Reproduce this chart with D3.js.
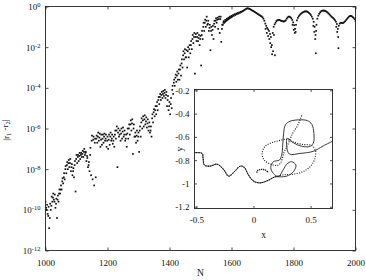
<!DOCTYPE html>
<html><head><meta charset="utf-8">
<script src="https://cdn.jsdelivr.net/npm/d3@7"></script>
<style>
body{margin:0;background:#fff}
svg{display:block}
text{font-family:"Liberation Serif","Times New Roman",serif;fill:#111}
</style>
</head><body>
<svg id="c" width="366" height="280"></svg>
<script>
// ---------- main plot data: log10 |r1 - r2| versus N ----------
const bandN = [1000,1005,1010,1015,1020,1025,1030,1035,1040,1045,1050,1055,1060,1065,1070,1075,1080,1085,1090,1095,1100,1105,1110,1115,1120,1125,1130,1135,1140,1145,1150,1155,1160,1165,1170,1175,1180,1185,1190,1195,1200,1205,1210,1215,1220,1225,1230,1235,1240,1245,1250,1255,1260,1265,1270,1275,1280,1285,1290,1295,1300,1305,1310,1315,1320,1325,1330,1335,1340,1345,1350,1355,1360,1365,1370,1375,1380,1385,1390,1395,1400,1405,1410,1415,1420,1425,1430,1435,1440,1445,1450,1455,1460,1465,1470,1475,1480,1485,1490,1495,1500,1505,1510,1515,1520,1525,1530,1535,1540,1545,1550,1555,1560,1565,1570,1575,1580,1585,1590,1595,1600,1605,1610,1615,1620,1625,1630,1635,1640];
const bandUpper = [-9.6,-9.75,-9.85,-9.7,-9.35,-9.2,-9.25,-9.45,-9.3,-9.0,-8.8,-8.45,-8.2,-7.85,-7.65,-7.55,-7.5,-7.75,-7.95,-7.6,-7.3,-7.3,-7.2,-7.2,-7.1,-7.0,-7.15,-7.45,-7.65,-6.95,-6.35,-6.4,-6.5,-6.35,-6.2,-6.25,-6.3,-6.3,-6.25,-6.3,-6.4,-6.3,-6.2,-6.3,-6.4,-6.1,-5.9,-6.0,-6.1,-6.0,-5.95,-6.1,-6.3,-6.0,-5.8,-5.6,-5.55,-5.8,-6.2,-6.1,-6.2,-5.9,-5.5,-5.4,-5.35,-5.45,-5.55,-5.7,-5.9,-5.3,-5.05,-4.9,-4.7,-4.45,-4.3,-4.2,-4.15,-4.1,-4.2,-4.4,-4.7,-4.5,-3.9,-3.6,-3.35,-3.2,-3.1,-2.9,-2.6,-2.2,-2.1,-2.15,-2.0,-1.9,-1.7,-1.4,-1.3,-1.35,-1.3,-1.4,-1.45,-1.2,-0.8,-0.65,-0.5,-0.7,-0.9,-1.0,-0.95,-0.7,-0.58,-0.55,-0.5,-0.5,-0.9,-0.72,-0.66,-0.6,-0.55,-0.5,-0.46,-0.42,-0.38,-0.35,-0.32,-0.29,-0.26,-0.23,-0.19];
const midN = [1004,1009,1014,1019,1024,1029,1034,1039,1044,1049,1054,1059,1064,1069,1074,1079,1084,1089,1094,1099,1104,1109,1114,1119,1124,1129,1134,1139,1144,1149,1154,1159,1164,1169,1174,1179,1184,1189,1194,1199,1204,1209,1214,1219,1224,1229,1234,1239,1244,1249,1254,1259,1264,1269,1274,1279,1284,1289,1294,1299,1304,1309,1314,1319,1324,1329,1334,1339,1344,1349,1354,1359,1364,1369,1374,1379,1384,1389,1394,1399,1404,1409,1414,1419,1424,1429,1434,1439,1444,1449,1454,1459,1464,1469,1474,1479,1484,1489,1494,1499,1504,1509,1514,1519,1524,1529,1534,1539,1544,1549,1554,1559,1564,1569,1574,1579,1584,1589,1594,1599];
const midVal = [-10.0,-10.3,-10.4,-9.8,-9.4,-9.6,-9.7,-9.5,-9.2,-9.0,-8.6,-8.4,-8.0,-7.8,-7.7,-7.7,-7.9,-8.1,-7.8,-7.5,-7.4,-7.35,-7.3,-7.25,-7.15,-7.2,-7.35,-7.8,-7.3,-6.6,-6.55,-6.7,-6.5,-6.4,-6.45,-6.55,-6.5,-6.4,-6.5,-6.6,-6.55,-6.4,-6.5,-6.6,-6.3,-6.1,-6.2,-6.3,-6.25,-6.15,-6.3,-6.5,-6.25,-6.0,-5.8,-5.75,-6.0,-6.4,-6.35,-6.4,-6.1,-5.7,-5.6,-5.55,-5.65,-5.75,-5.9,-6.1,-5.5,-5.2,-5.1,-4.9,-4.6,-4.45,-4.35,-4.3,-4.25,-4.35,-4.6,-4.9,-4.8,-4.1,-3.75,-3.5,-3.4,-3.3,-3.1,-2.8,-2.4,-2.3,-2.5,-2.2,-2.1,-1.9,-1.6,-1.5,-1.5,-1.5,-1.55,-1.6,-1.4,-1.0,-0.8,-0.7,-0.85,-1.05,-1.2,-1.15,-0.85,-0.7,-0.65,-0.62,-0.62,-1.1,-0.8,-0.75,-0.68,-0.62,-0.57,-0.52];
const lowerN = [1002,1007,1012,1017,1022,1027,1032,1037,1042,1047,1052,1057,1062,1067,1072,1077,1082,1087,1092,1097,1102,1107,1112,1117,1122,1127,1132,1137,1142,1147,1152,1157,1162,1167,1172,1177,1182,1187,1192,1197,1202,1207,1212,1217,1222,1227,1232,1237,1242,1247,1252,1257,1262,1267,1272,1277,1282,1287,1292,1297,1302,1307,1312,1317,1322,1327,1332,1337,1342,1347,1352,1357,1362,1367,1372,1377,1382,1387,1392,1397,1402,1407,1412,1417,1422,1427,1432,1437,1442,1447,1452,1457,1462,1467,1472,1477,1482,1487,1492,1497,1502,1507,1512,1517,1522,1527,1532,1537,1542,1547,1552,1557,1562,1567,1572,1577,1582,1587,1592,1597,1602,1607,1612,1617,1622,1627,1632,1637];
const lowerVal = [-9.9,-10.2,-10.9,-10.0,-9.6,-9.5,-9.9,-10.4,-9.6,-9.2,-9.0,-8.7,-8.5,-8.2,-8.0,-7.9,-8.1,-8.3,-8.4,-9.1,-7.7,-7.6,-7.5,-7.4,-7.4,-7.3,-7.6,-7.9,-8.1,-8.3,-8.5,-8.8,-8.4,-6.7,-6.6,-6.9,-6.8,-6.7,-6.6,-6.9,-7.0,-6.8,-6.6,-6.75,-6.9,-6.5,-7.9,-6.4,-6.6,-6.5,-6.4,-6.6,-6.9,-6.5,-6.3,-6.1,-7.25,-6.4,-6.7,-6.6,-7.15,-6.4,-6.0,-5.9,-5.8,-5.95,-6.1,-6.2,-6.4,-5.7,-5.4,-5.3,-5.1,-4.8,-4.6,-4.5,-4.4,-4.5,-4.9,-5.1,-5.3,-5.0,-4.3,-3.9,-3.7,-3.6,-3.6,-3.4,-3.0,-2.6,-2.5,-3.0,-2.5,-2.3,-2.1,-1.8,-3.3,-1.7,-1.7,-1.9,-2.9,-1.6,-1.2,-1.0,-0.9,-1.2,-2.15,-1.4,-1.6,-1.0,-0.8,-1.1,-1.3,-1.74,-0.9,-0.8,-0.72,-0.66,-0.6,-0.55,-0.5,-0.46,-0.42,-0.38,-0.35,-0.31,-0.27,-0.22];
const satN = [1643,1646,1649,1652,1655,1658,1661,1664,1667,1670,1673,1676,1679,1682,1685,1688,1691,1694,1697,1700,1703,1706,1709,1712,1715,1718,1721,1724,1727,1730,1733,1736,1739,1742,1745,1748,1751,1754,1757,1760,1763,1766,1769,1772,1775,1778,1781,1784,1787,1790,1793,1796,1799,1802,1805,1808,1811,1814,1817,1820,1823,1826,1829,1832,1835,1838,1841,1844,1847,1850,1853,1856,1859,1862,1865,1868,1871,1874,1877,1880,1883,1886,1889,1892,1895,1898,1901,1904,1907,1910,1913,1916,1919,1922,1925,1928,1931,1934,1937,1940,1943,1946,1949,1952,1955,1958,1961,1964,1967,1970,1973,1976,1979,1982,1985,1988,1991,1994,1997,2000];
const satVal = [-0.16,-0.13,-0.1,-0.09,-0.1,-0.12,-0.14,-0.17,-0.2,-0.22,-0.25,-0.28,-0.31,-0.34,-0.37,-0.4,-0.43,-0.46,-0.49,-0.53,-0.6,-0.7,-0.84,-0.95,-1.05,-1.12,-1.2,-1.35,-1.5,-1.9,-1.3,-1.0,-0.88,-0.8,-0.72,-0.68,-0.66,-0.66,-0.68,-0.7,-0.72,-0.73,-0.74,-0.72,-0.68,-0.6,-0.54,-0.5,-0.5,-0.53,-0.58,-0.66,-0.78,-0.92,-1.1,-0.9,-0.68,-0.56,-0.48,-0.42,-0.37,-0.33,-0.3,-0.27,-0.25,-0.24,-0.24,-0.25,-0.28,-0.32,-0.36,-0.42,-0.5,-0.6,-0.75,-1.0,-1.4,-0.9,-0.6,-0.45,-0.36,-0.29,-0.24,-0.21,-0.2,-0.2,-0.21,-0.23,-0.26,-0.3,-0.34,-0.39,-0.44,-0.49,-0.53,-0.57,-0.62,-0.68,-0.75,-0.86,-1.1,-0.95,-0.84,-0.8,-0.8,-0.82,-0.8,-0.76,-0.72,-0.66,-0.6,-0.55,-0.5,-0.47,-0.46,-0.48,-0.52,-0.56,-0.62,-0.72];
const dipN = [1710,1714,1718,1722,1725,1728,1731,1734,1737,1740,1797,1801,1804,1807,1864,1867,1870,1872,1873,1938,1941,1944,1945];
const dipVal = [-1.1,-1.3,-1.45,-1.6,-1.8,-2.0,-2.35,-2.2,-1.4,-2.4,-0.9,-1.15,-1.3,-1.25,-0.95,-1.25,-1.6,-2.3,-1.2,-1.0,-1.25,-1.5,-2.05];

const xTicks = [1000,1200,1400,1600,1800,2000];
const yTickExp = [-12,-10,-8,-6,-4,-2,0];

// ---------- inset data: two trajectories in the (x, y) plane ----------
const solidX = [-0.523,-0.450,-0.442,-0.430,-0.378,-0.320,-0.262,-0.218,-0.160,-0.116,-0.081,-0.044,0.0,0.058,0.131,0.189,0.232,0.291,0.349,0.372,0.334,0.291,0.262,0.218,0.174,0.151,0.174,0.227,0.247,0.256,0.264,0.279,0.320,0.392,0.471,0.511,0.529,0.523,0.488,0.407,0.334,0.296,0.291,0.314,0.407,0.523,0.610,0.697];
const solidY = [-0.736,-0.742,-0.785,-0.842,-0.851,-0.834,-0.880,-0.937,-0.891,-0.851,-0.862,-0.928,-0.980,-0.995,-0.972,-0.943,-0.943,-0.937,-0.900,-0.842,-0.813,-0.834,-0.880,-0.940,-0.914,-0.862,-0.813,-0.799,-0.756,-0.670,-0.569,-0.497,-0.466,-0.454,-0.460,-0.492,-0.569,-0.655,-0.684,-0.676,-0.641,-0.612,-0.684,-0.747,-0.742,-0.724,-0.678,-0.635];
const dottedX = [-0.523,-0.450,-0.442,-0.430,-0.378,-0.320,-0.262,-0.218,-0.160,-0.116,-0.081,-0.044,0.0,0.058,0.131,0.174,0.262,0.349,0.436,0.494,0.535,0.543,0.511,0.422,0.349,0.296,0.232,0.160,0.105,0.076,0.093,0.151,0.209,0.238,0.267,0.308,0.343,0.384,0.413,0.427];
const dottedY = [-0.736,-0.742,-0.785,-0.842,-0.851,-0.834,-0.880,-0.937,-0.891,-0.851,-0.862,-0.928,-0.980,-0.995,-0.972,-0.949,-0.926,-0.920,-0.897,-0.857,-0.793,-0.718,-0.675,-0.664,-0.644,-0.621,-0.630,-0.650,-0.678,-0.736,-0.799,-0.834,-0.845,-0.822,-0.736,-0.650,-0.569,-0.506,-0.440,-0.405];
const hookX = [0.029,0.035,0.064,0.102,0.131];
const hookY = [-0.908,-0.890,-0.880,-0.884,-0.905];
const insetXTicks = [-0.5,0,0.5];
const insetYTicks = [-1.2,-1,-0.8,-0.6,-0.4,-0.2];

// ---------- drawing ----------
const svg = d3.select("#c");
const M = {l:45.5, r:355.5, t:6.5, b:250.5};
const x = d3.scaleLinear().domain([1000,2000]).range([M.l,M.r]);
const y = d3.scaleLog().domain([1e-12,1]).range([M.b,M.t]);
const FS = 9;

svg.append("clipPath").attr("id","mainClip").append("rect")
  .attr("x",M.l).attr("y",M.t).attr("width",M.r-M.l).attr("height",M.b-M.t);

const pts = [];
bandN.forEach((n,i)=>pts.push([n,bandUpper[i]]));
midN.forEach((n,i)=>pts.push([n,midVal[i]]));
lowerN.forEach((n,i)=>pts.push([n,lowerVal[i]]));
satN.forEach((n,i)=>pts.push([n,satVal[i]]));
dipN.forEach((n,i)=>pts.push([n,dipVal[i]]));

const dotS = 1.7;
svg.append("g").attr("clip-path","url(#mainClip)").selectAll("rect").data(pts).join("rect")
  .attr("x",d=>x(d[0])-dotS/2).attr("y",d=>y(Math.pow(10,d[1]))-dotS/2)
  .attr("width",dotS).attr("height",dotS).attr("fill","#111");

function styleAxis(g){
  g.select(".domain").remove();
  g.selectAll(".tick line").attr("stroke","#222").attr("stroke-width",0.8);
  g.selectAll("text").attr("font-size",FS).attr("fill","#111")
    .style("font-family",'"Liberation Serif","Times New Roman",serif');
}

// bottom
svg.append("g").attr("transform",`translate(0,${M.b})`)
  .call(d3.axisBottom(x).tickValues(xTicks).tickFormat(d3.format("d")).tickSizeInner(-3).tickSizeOuter(0).tickPadding(9))
  .call(styleAxis);
// top
svg.append("g").attr("transform",`translate(0,${M.t})`)
  .call(d3.axisTop(x).tickValues(xTicks).tickFormat("").tickSizeInner(-3).tickSizeOuter(0))
  .call(styleAxis);
// left
const yTickVals = yTickExp.map(e=>Math.pow(10,e));
const gl = svg.append("g").attr("transform",`translate(${M.l},0)`)
  .call(d3.axisLeft(y).tickValues(yTickVals).tickSizeInner(-3).tickSizeOuter(0).tickPadding(5))
  .call(styleAxis);
gl.selectAll(".tick text").each(function(d,i){
  const t = d3.select(this); t.text(null);
  t.append("tspan").text("10");
  t.append("tspan").attr("dy","-0.45em").attr("font-size",6.5).text(String(yTickExp[i]));
});
// right
svg.append("g").attr("transform",`translate(${M.r},0)`)
  .call(d3.axisRight(y).tickValues(yTickVals).tickFormat("").tickSizeInner(-3).tickSizeOuter(0))
  .call(styleAxis);

svg.append("rect").attr("x",M.l).attr("y",M.t).attr("width",M.r-M.l).attr("height",M.b-M.t)
  .attr("fill","none").attr("stroke","#222").attr("stroke-width",0.9);

// axis labels
svg.append("text").attr("x",(M.l+M.r)/2).attr("y",276).attr("text-anchor","middle")
  .attr("font-size",FS+0.5).text("N");
const yl = svg.append("text").attr("transform","translate(9,130) rotate(-90)")
  .attr("text-anchor","middle").attr("font-size",FS);
yl.append("tspan").text("|r");
yl.append("tspan").attr("dy","0.3em").attr("font-size",6.5).text("1");
yl.append("tspan").attr("dy","-0.3em").text(" -r");
yl.append("tspan").attr("dy","0.3em").attr("font-size",6.5).text("2");
yl.append("tspan").attr("dy","-0.3em").text("|");

// ---------- inset ----------
const I = {l:194.5, r:332.5, t:89.5, b:208.5};
const ix = d3.scaleLinear().domain([-0.517,0.692]).range([I.l,I.r]);
const iy = d3.scaleLinear().domain([-1.215,-0.193]).range([I.b,I.t]);

svg.append("rect").attr("x",I.l).attr("y",I.t).attr("width",I.r-I.l).attr("height",I.b-I.t)
  .attr("fill","#fff");
svg.append("clipPath").attr("id","insetClip").append("rect")
  .attr("x",I.l).attr("y",I.t).attr("width",I.r-I.l).attr("height",I.b-I.t);

const line = d3.line().x(d=>ix(d[0])).y(d=>iy(d[1])).curve(d3.curveCatmullRom.alpha(0.5));
const gi = svg.append("g").attr("clip-path","url(#insetClip)");
gi.append("path").attr("d",line(solidX.map((v,i)=>[v,solidY[i]])))
  .attr("fill","none").attr("stroke","#222").attr("stroke-width",0.9);
gi.append("path").attr("d",line(dottedX.map((v,i)=>[v,dottedY[i]])))
  .attr("fill","none").attr("stroke","#111").attr("stroke-width",1.1).attr("stroke-dasharray","1,1.4");
gi.append("path").attr("d",line(hookX.map((v,i)=>[v,hookY[i]])))
  .attr("fill","none").attr("stroke","#111").attr("stroke-width",1.3).attr("stroke-dasharray","1.2,0.8");

svg.append("g").attr("transform",`translate(0,${I.b})`)
  .call(d3.axisBottom(ix).tickValues(insetXTicks).tickFormat(d=>String(d)).tickSizeInner(-2.5).tickSizeOuter(0).tickPadding(8))
  .call(styleAxis);
svg.append("g").attr("transform",`translate(0,${I.t})`)
  .call(d3.axisTop(ix).tickValues(insetXTicks).tickFormat("").tickSizeInner(-2.5).tickSizeOuter(0))
  .call(styleAxis);
svg.append("g").attr("transform",`translate(${I.l},0)`)
  .call(d3.axisLeft(iy).tickValues(insetYTicks).tickFormat(d=>String(d)).tickSizeInner(-2.5).tickSizeOuter(0).tickPadding(5))
  .call(styleAxis);
svg.append("g").attr("transform",`translate(${I.r},0)`)
  .call(d3.axisRight(iy).tickValues(insetYTicks).tickFormat("").tickSizeInner(-2.5).tickSizeOuter(0))
  .call(styleAxis);
svg.append("rect").attr("x",I.l).attr("y",I.t).attr("width",I.r-I.l).attr("height",I.b-I.t)
  .attr("fill","none").attr("stroke","#222").attr("stroke-width",0.9);

svg.append("text").attr("x",(I.l+I.r)/2).attr("y",238).attr("text-anchor","middle")
  .attr("font-size",FS+0.5).text("x");
svg.append("text").attr("transform","translate(183,149) rotate(-90)").attr("text-anchor","middle")
  .attr("font-size",FS+0.5).text("y");
</script>
</body></html>
